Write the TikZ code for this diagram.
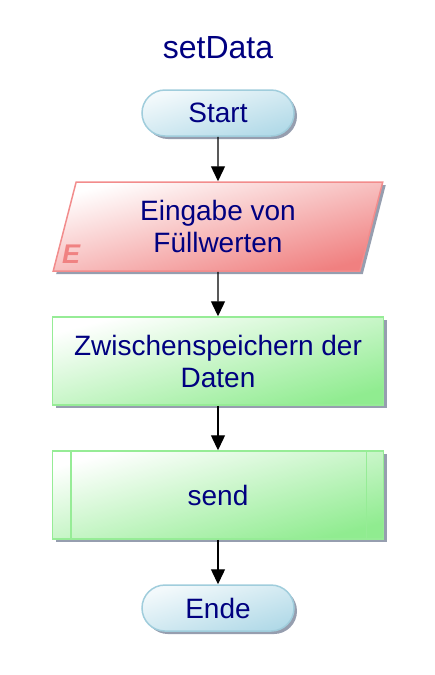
\documentclass[tikz,border=0pt]{standalone}
\usepackage{fontspec}
\setmainfont{Liberation Sans}
\usetikzlibrary{arrows.meta, positioning, shapes.geometric, shadows}

\definecolor{navytext}{RGB}{0,0,128}
\definecolor{termfill}{RGB}{178,218,232}
\definecolor{termdraw}{RGB}{160,205,220}
\definecolor{iofill}{RGB}{240,128,128}
\definecolor{iodraw}{RGB}{242,140,140}
\definecolor{ioflagcol}{RGB}{240,130,130}
\definecolor{procfill}{RGB}{144,236,144}
\definecolor{procdraw}{RGB}{150,236,150}
\definecolor{shadowgray}{RGB}{150,158,175}

\begin{document}
\begin{tikzpicture}[x=1pt, y=1pt, node distance=44.5pt, >={Triangle[width=14pt, length=15pt]},
  every node/.style={text=navytext, font=\fontsize{28}{32}\selectfont},
  flowshadow/.style={drop shadow={shadow xshift=3pt, shadow yshift=-3pt, fill=shadowgray, opacity=1}},
  terminal/.style={rectangle, rounded corners=23pt, minimum width=152pt, minimum height=46pt,
    draw=termdraw, line width=1.5pt, top color=white!85!termfill, bottom color=termfill, shading angle=17, flowshadow},
  inout/.style={trapezium, trapezium left angle=77.5, trapezium right angle=102.5, trapezium stretches=true,
    minimum width=330pt, minimum height=89pt, align=center,
    draw=iodraw, line width=1.5pt, top color=white, bottom color=iofill, shading angle=15, flowshadow},
  process/.style={rectangle, minimum width=331pt, minimum height=88pt, align=center,
    draw=procdraw, line width=1.5pt, top color=white, bottom color=procfill, shading angle=15, flowshadow},
  flow/.style={->, line width=1.3pt, black}]
  \useasboundingbox (0,0) rectangle (435,-675);

  % Title
  \node[font=\fontsize{32}{36}\selectfont] (title) at (218,-48) {setData};

  % Nodes
  \node[terminal] (start) at (218,-113) {Start};
  \node[inout, below=of start] (input) {Eingabe von\\Füllwerten};
  \node[text=ioflagcol, font=\fontsize{27}{27}\selectfont\bfseries\itshape] (ioflag)
    at ([xshift=19pt, yshift=18pt]input.bottom left corner) {E};
  \node[process, below=of input] (store) {Zwischenspeichern der\\Daten};
  \node[process, below=of store] (send) {send};
  \draw[procdraw, line width=1.5pt] ([xshift=19pt]send.north west) -- ([xshift=19pt]send.south west);
  \draw[procdraw, line width=1.5pt] ([xshift=-18pt]send.north east) -- ([xshift=-18pt]send.south east);
  \node[terminal, below=of send] (stop) {Ende};

  % Arrows
  \draw[flow] (start) -- (input);
  \draw[flow] (input) -- (store);
  \draw[flow] (store) -- (send);
  \draw[flow] (send) -- (stop);
\end{tikzpicture}
\end{document}
